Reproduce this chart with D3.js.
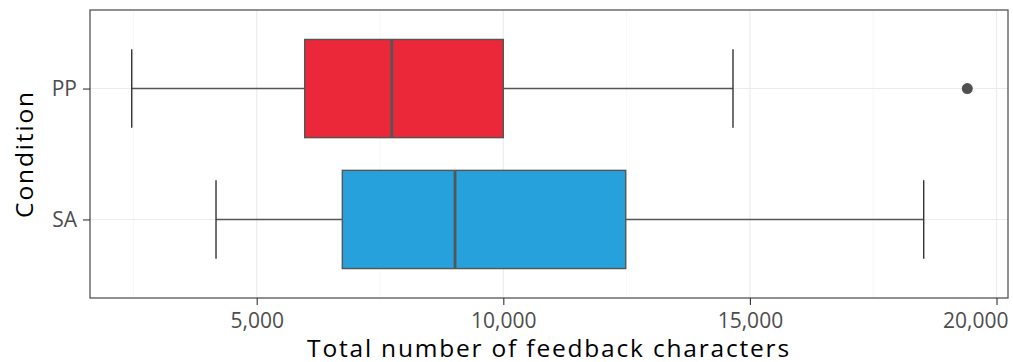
<!DOCTYPE html>
<html>
<head>
<meta charset="utf-8">
<script src="https://cdn.jsdelivr.net/npm/d3@7"></script>
<style>
  html, body { margin: 0; padding: 0; background: #fff; }
  svg text { font-family: "Open Sans", "Noto Sans", sans-serif; }
</style>
</head>
<body>
<svg id="chart" width="1013" height="362"></svg>
<script>
// Box-plot summaries of total feedback characters per condition
const conditions   = ["PP", "SA"];
const whiskerLow   = [2466, 4175];
const quartile1    = [5973, 6736];
const medians      = [7737, 9021];
const quartile3    = [10000, 12482];
const whiskerHigh  = [14657, 18524];
const outliers     = [[19408], []];
const fills        = ["#EA283A", "#27A1DB"];
const xTicks       = [5000, 10000, 15000, 20000];
const xMinorTicks  = [2500, 7500, 12500, 17500];

const W = 1013, H = 362;
const m = { left: 90, right: 5, top: 10, bottom: 64 };
const svg = d3.select("#chart");

const x = d3.scaleLinear().domain([1620, 20233]).range([m.left, W - m.right]);
// discrete axis with 0.6 unit padding on each side
const y = d3.scaleLinear().domain([0.4, 2.6]).range([m.top, H - m.bottom]);
const yPos = i => y(i + 1);
const unit = y(2) - y(1);

const grid = svg.append("g");
grid.selectAll("line.minor").data(xMinorTicks).join("line")
  .attr("x1", d => x(d)).attr("x2", d => x(d))
  .attr("y1", m.top).attr("y2", H - m.bottom)
  .attr("stroke", "#f2f2f2").attr("stroke-width", 0.6);
grid.selectAll("line.major").data(xTicks).join("line")
  .attr("x1", d => x(d)).attr("x2", d => x(d))
  .attr("y1", m.top).attr("y2", H - m.bottom)
  .attr("stroke", "#ebebeb").attr("stroke-width", 1.1);
grid.selectAll("line.hy").data(conditions).join("line")
  .attr("x1", m.left).attr("x2", W - m.right)
  .attr("y1", (d, i) => yPos(i)).attr("y2", (d, i) => yPos(i))
  .attr("stroke", "#ebebeb").attr("stroke-width", 1.1);

const boxes = svg.append("g");
conditions.forEach((c, i) => {
  const cy = yPos(i);
  const g = boxes.append("g");
  const stroke = "#555555";
  // whisker lines
  g.append("line").attr("x1", x(whiskerLow[i])).attr("x2", x(quartile1[i]))
    .attr("y1", cy).attr("y2", cy).attr("stroke", stroke).attr("stroke-width", 1.4);
  g.append("line").attr("x1", x(quartile3[i])).attr("x2", x(whiskerHigh[i]))
    .attr("y1", cy).attr("y2", cy).attr("stroke", stroke).attr("stroke-width", 1.4);
  // whisker caps
  [whiskerLow[i], whiskerHigh[i]].forEach(v => {
    g.append("line").attr("x1", x(v)).attr("x2", x(v))
      .attr("y1", cy - unit * 0.3).attr("y2", cy + unit * 0.3)
      .attr("stroke", "#333333").attr("stroke-width", 1.4);
  });
  // box
  g.append("rect")
    .attr("x", x(quartile1[i])).attr("width", x(quartile3[i]) - x(quartile1[i]))
    .attr("y", cy - unit * 0.375).attr("height", unit * 0.75)
    .attr("fill", fills[i]).attr("stroke", stroke).attr("stroke-width", 1.4);
  // median
  g.append("line").attr("x1", x(medians[i])).attr("x2", x(medians[i]))
    .attr("y1", cy - unit * 0.375).attr("y2", cy + unit * 0.375)
    .attr("stroke", stroke).attr("stroke-width", 2.8);
  // outliers
  g.selectAll("circle").data(outliers[i]).join("circle")
    .attr("cx", d => x(d)).attr("cy", cy).attr("r", 5.5).attr("fill", "#505050");
});

// panel border
svg.append("rect").attr("x", m.left).attr("y", m.top)
  .attr("width", W - m.right - m.left).attr("height", H - m.bottom - m.top)
  .attr("fill", "none").attr("stroke", "#555555").attr("stroke-width", 1.3);

// x axis
const xAxis = svg.append("g").attr("transform", `translate(0,${H - m.bottom})`)
  .call(d3.axisBottom(x).tickValues(xTicks).tickFormat(d3.format(",")).tickSize(7).tickPadding(8));
xAxis.select(".domain").remove();
xAxis.selectAll(".tick line").attr("stroke", "#333333").attr("stroke-width", 1.1);
xAxis.selectAll(".tick text").attr("fill", "#4d4d4d").style("font-size", "21px");
// keep the last label inside the canvas
xAxis.selectAll(".tick text").filter(d => d === xTicks[xTicks.length - 1])
  .attr("text-anchor", "end").attr("x", (W - 5) - x(xTicks[xTicks.length - 1]));

// y axis
const yAxis = svg.append("g").attr("transform", `translate(${m.left},0)`)
  .call(d3.axisLeft(d3.scalePoint().domain(conditions).range([yPos(0), yPos(1)]))
    .tickSize(7).tickPadding(6));
yAxis.select(".domain").remove();
yAxis.selectAll(".tick line").attr("stroke", "#333333").attr("stroke-width", 1.1);
yAxis.selectAll(".tick text").attr("fill", "#4d4d4d").style("font-size", "21px");

// spread a title's letters so it spans the given width
function spreadTo(sel, width) {
  const node = sel.node();
  const n = sel.text().length;
  const len = node.getComputedTextLength();
  sel.style("letter-spacing", `${(width - len) / (n - 1)}px`);
}

// axis titles
const xTitle = svg.append("text").attr("x", (m.left + W - m.right) / 2).attr("y", 357)
  .attr("text-anchor", "middle").attr("fill", "#000").style("font-size", "24.5px")
  .text("Total number of feedback characters");
spreadTo(xTitle, 482);
const yTitle = svg.append("text")
  .attr("transform", `translate(33,${(m.top + H - m.bottom) / 2}) rotate(-90)`)
  .attr("text-anchor", "middle").attr("fill", "#000").style("font-size", "24.5px")
  .text("Condition");
spreadTo(yTitle, 126);
</script>
</body>
</html>
